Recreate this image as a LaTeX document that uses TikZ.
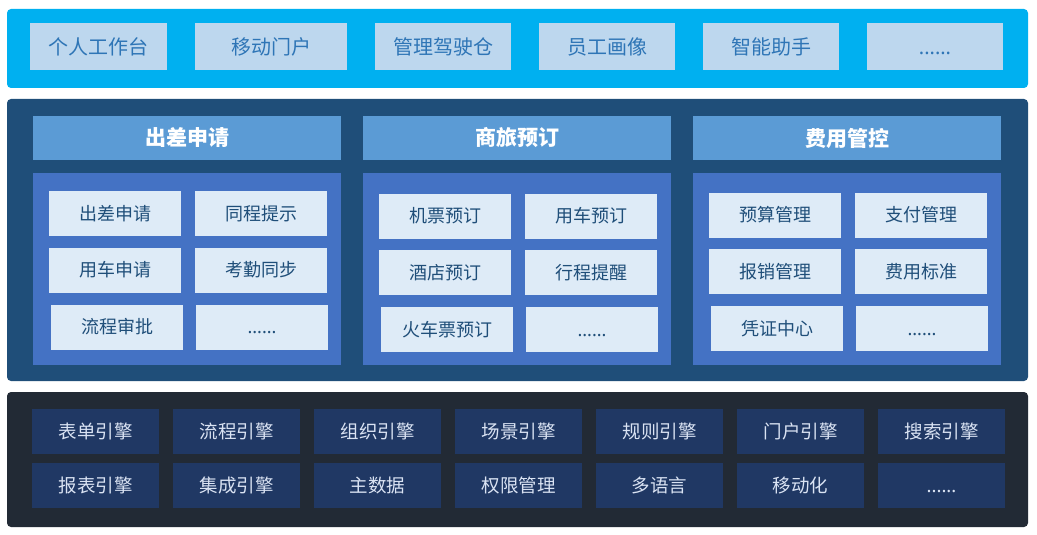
\documentclass[tikz,border=0pt]{standalone}
\usepackage{fontspec}
\setmainfont{Noto Sans CJK SC}
\newfontfamily\latinfont{Noto Sans}
\usepackage{tikz}
\definecolor{portalbg}{HTML}{00B0F0}
\definecolor{portalcell}{HTML}{BDD7EE}
\definecolor{portaltxt}{HTML}{2E75B6}
\definecolor{bizbg}{HTML}{1F4E79}
\definecolor{bizhead}{HTML}{5B9BD5}
\definecolor{bizpanel}{HTML}{4472C4}
\definecolor{bizcell}{HTML}{DEEBF7}
\definecolor{baseband}{HTML}{222A35}
\definecolor{basecell}{HTML}{203864}
\definecolor{basetxt}{HTML}{DAE3F3}
\newcommand{\etcdots}{\vphantom{中}{\latinfont......}}
\tikzset{band/.style={rounded corners=4pt,inner sep=0pt,minimum width=1021},portal/.style={fill=portalcell,text=portaltxt,inner sep=0pt,minimum height=47,font=\fontsize{20}{24}\selectfont},head/.style={fill=bizhead,text=white,inner sep=0pt,minimum width=308,minimum height=44,font=\fontsize{21}{25}\selectfont\bfseries},panel/.style={fill=bizpanel,inner sep=0pt,minimum width=308,minimum height=192},item/.style={fill=bizcell,text=bizbg,inner sep=0pt,minimum width=132,minimum height=45,font=\fontsize{18}{22}\selectfont},engine/.style={fill=basecell,text=basetxt,inner sep=0pt,minimum width=127,minimum height=45,font=\fontsize{18.5}{22}\selectfont}}

\begin{document}
\begin{tikzpicture}[x=1pt,y=-1pt]
\useasboundingbox (0,0) rectangle (1037,535);
\node[band,fill=portalbg,minimum height=79] (portal) at (517.5,48.5) {};
\node[band,fill=bizbg,minimum height=282] (biz) at (517.5,240) {};
\node[band,fill=baseband,minimum height=135] (base) at (517.5,459.5) {};
\foreach \cx/\w/\t [count=\i] in {98.5/137/个人工作台,271/152/移动门户,443/136/管理驾驶仓,607/136/员工画像,771/136/智能助手,935/136/\etcdots}{
  \node[portal,minimum width=\w] (ptl\i) at (\cx,46.5) {\t};
}
\foreach \px/\dy/\hd/\a/\b/\c/\d/\e [count=\j] in {33/0/出差申请/出差申请/同程提示/用车申请/考勤同步/流程审批,363/2.5/商旅预订/机票预订/用车预订/酒店预订/行程提醒/火车票预订,693/1.5/费用管控/预算管理/支付管理/报销管理/费用标准/凭证中心}{
  \node[head] (hd\j) at (\px+154,138) {\hd};
  \node[panel] (pn\j) at (\px+154,269) {};
  \node[item] (it\j-1) at (\px+82,213.5+\dy) {\a};
  \node[item] (it\j-2) at (\px+228,213.5+\dy) {\b};
  \node[item] (it\j-3) at (\px+82,270+\dy) {\c};
  \node[item] (it\j-4) at (\px+228,270+\dy) {\d};
  \node[item] (it\j-5) at (\px+84,327+\dy) {\e};
  \node[item] (it\j-6) at (\px+229,327+\dy) {\etcdots};
}
\foreach \t [count=\i] in {表单引擎,流程引擎,组织引擎,场景引擎,规则引擎,门户引擎,搜索引擎}{
  \node[engine] (engA\i) at ({95.5+141*(\i-1)},431.5) {\t};
}
\foreach \t [count=\i] in {报表引擎,集成引擎,主数据,权限管理,多语言,移动化,\etcdots}{
  \node[engine] (engB\i) at ({95.5+141*(\i-1)},485.5) {\t};
}
\end{tikzpicture}
\end{document}
